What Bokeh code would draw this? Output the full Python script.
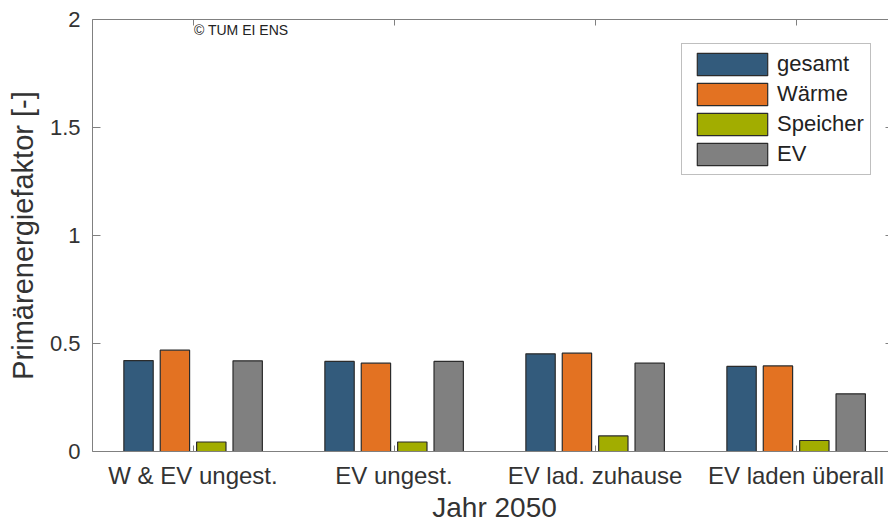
from bokeh.plotting import figure
from bokeh.models import (Range1d, FixedTicker, LinearAxis, Legend, LegendItem,
                          Label, ColumnDataSource)
from bokeh.embed import file_html
from bokeh.resources import INLINE

# ---- data ----
categories = ["W & EV ungest.", "EV ungest.", "EV lad. zuhause", "EV laden überall"]
series_names = ["gesamt", "Wärme", "Speicher", "EV"]
gesamt = [0.421, 0.417, 0.452, 0.394]
waerme = [0.469, 0.409, 0.455, 0.396]
speicher = [0.044, 0.044, 0.072, 0.051]
ev = [0.420, 0.417, 0.409, 0.267]
y_ticks = [0, 0.5, 1, 1.5, 2]
y_tick_labels = ["0", "0.5", "1", "1.5", "2"]
x_label = "Jahr 2050"
y_label = "Primärenergiefaktor [-]"
copyright_text = "© TUM EI ENS"

colors = ["#335B7C", "#E37222", "#A2AD00", "#808080"]
offsets = [-0.271, -0.090, 0.091, 0.272]
bar_width = 0.146
FONT = "Liberation Sans"
TXT = "#333333"
AX = "#808080"

xpos = list(range(1, len(categories) + 1))
x_mid = sum(xpos) / len(xpos)

p = figure(width=888, height=524, output_backend="svg", toolbar_location=None,
           x_range=Range1d(0.5, 4.46), y_range=Range1d(0, 2),
           min_border_left=92, min_border_right=0, min_border_top=19,
           min_border_bottom=73, background_fill_color="white",
           border_fill_color="white")
p.outline_line_color = None
p.xgrid.visible = False
p.ygrid.visible = False

renderers = []
for name, vals, col, off in zip(series_names, [gesamt, waerme, speicher, ev], colors, offsets):
    src = ColumnDataSource(dict(x=[x + off for x in xpos], top=vals))
    r = p.vbar(x="x", top="top", width=bar_width, bottom=0, source=src,
               fill_color=col, line_color="#2b2b2b", line_width=1.2)
    renderers.append((name, r))

# bottom axis (category labels)
xa = p.xaxis[0]
xa.ticker = FixedTicker(ticks=xpos)
xa.major_label_overrides = {x: c for x, c in zip(xpos, categories)}
xa.minor_tick_line_color = None
xa.major_tick_in = 6
xa.major_tick_out = 0
xa.major_label_standoff = 10
xa.major_label_text_font = FONT
xa.major_label_text_font_size = "24px"
xa.major_label_text_color = TXT
xa.axis_line_color = AX
xa.major_tick_line_color = AX

# left axis
ya = p.yaxis[0]
ya.ticker = FixedTicker(ticks=y_ticks)
ya.major_label_overrides = {t: l for t, l in zip(y_ticks, y_tick_labels)}
ya.minor_tick_line_color = None
ya.major_tick_in = 8
ya.major_tick_out = 0
ya.major_label_standoff = 12
ya.major_label_text_font = FONT
ya.major_label_text_font_size = "22px"
ya.major_label_text_color = TXT
ya.axis_label = y_label
ya.axis_label_text_font = FONT
ya.axis_label_text_font_size = "29px"
ya.axis_label_text_font_style = "normal"
ya.axis_label_text_color = TXT
ya.axis_label_standoff = 8
ya.axis_line_color = AX
ya.major_tick_line_color = AX

# top axis (box line + inward ticks)
top_axis = LinearAxis(ticker=FixedTicker(ticks=xpos), major_label_text_font_size="1px",
                      major_label_text_color=None, major_label_standoff=0,
                      major_tick_in=6, major_tick_out=0,
                      minor_tick_line_color=None, axis_line_color=AX,
                      major_tick_line_color=AX)
p.add_layout(top_axis, "above")

# right axis (only inward ticks visible at the window edge)
right_axis = LinearAxis(ticker=FixedTicker(ticks=y_ticks), major_label_text_font_size="1px",
                        major_label_text_color=None, major_label_standoff=0,
                        major_tick_in=3, major_tick_out=0,
                        minor_tick_line_color=None, axis_line_color=None,
                        major_tick_line_color=AX)
p.add_layout(right_axis, "right")

legend = Legend(items=[LegendItem(label=n, renderers=[r]) for n, r in renderers],
                location=(589, 276), margin=0, padding=6, spacing=2,
                glyph_width=88, glyph_height=28, label_standoff=1,
                label_text_font=FONT, label_text_font_size="22px",
                label_text_color="#222222", label_height=22,
                border_line_color=AX, border_line_width=1,
                background_fill_color="white", background_fill_alpha=1)
p.add_layout(legend, "center")

p.add_layout(Label(x=1, y=2, x_offset=1, y_offset=-2, text=copyright_text,
                   text_font=FONT, text_font_size="14px", text_baseline="top",
                   text_color="#222222"))

# x-axis title, placed in the bottom panel so it is not clipped to the frame
p.add_layout(Label(x=x_mid, y=0, y_offset=-40, text=x_label, text_align="center",
                   text_baseline="top", text_font=FONT, text_font_size="28px",
                   text_color=TXT), "below")

open("out.html", "w").write(file_html(p, INLINE))
